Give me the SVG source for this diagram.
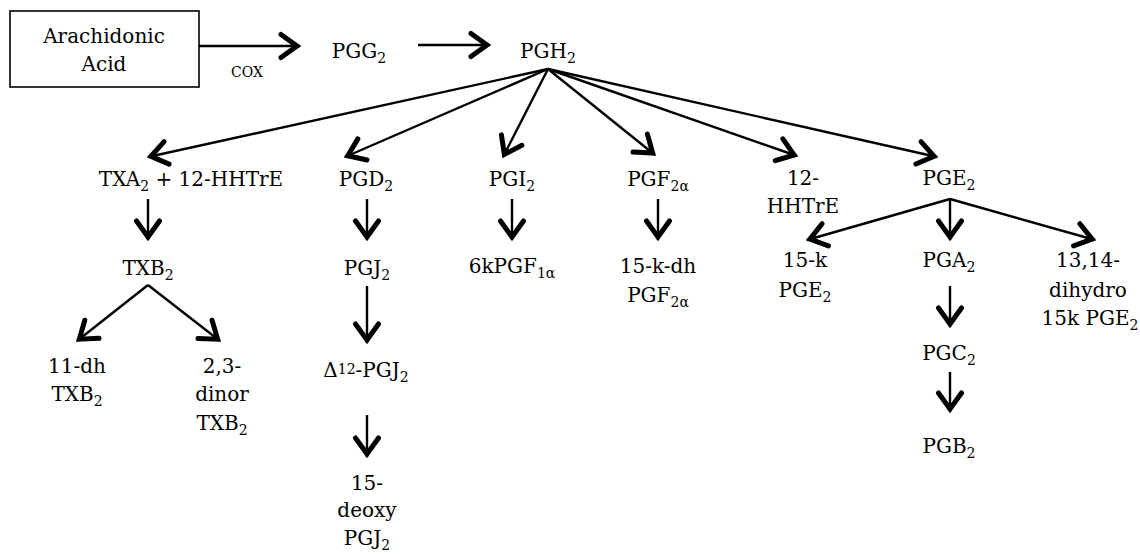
<svg xmlns="http://www.w3.org/2000/svg" width="1140" height="556" viewBox="0 0 1140 556">
  <style>
    text { font-family: "DejaVu Serif", "Liberation Serif", serif; font-size: 20px; fill: #000; text-anchor: middle; }
    .sub { font-size: 14px; }
    .sup { font-size: 14px; }
    .small { font-size: 14px; }
    .box { fill: #fff; stroke: #000; stroke-width: 1.6; }
    .link { fill: none; stroke: #000; stroke-width: 2.4; marker-end: url(#chev); }
  </style>
  <defs>
    <!-- open chevron arrowhead with heavy arms -->
    <marker id="chev" markerUnits="userSpaceOnUse" viewBox="-28 -18 32 36" markerWidth="32" markerHeight="36" refX="0" refY="0" orient="auto" overflow="visible">
      <path d="M-19,-11.5 L-3,0 L-19,11.5" fill="none" stroke="#000" stroke-width="5" stroke-linecap="round" stroke-linejoin="miter"/>
    </marker>
  </defs>
  <rect width="1140" height="556" fill="#fff"/>

  <!-- connectors -->
  <g id="connectors">
    <line class="link" x1="199" y1="46" x2="300" y2="46"/>
    <line class="link" x1="418" y1="45" x2="490" y2="45"/>
    <line class="link" x1="548" y1="69" x2="148" y2="157"/>
    <line class="link" x1="548" y1="69" x2="345" y2="157"/>
    <line class="link" x1="548" y1="69" x2="503" y2="157"/>
    <line class="link" x1="548" y1="69" x2="655" y2="155"/>
    <line class="link" x1="548" y1="69" x2="797" y2="156"/>
    <line class="link" x1="548" y1="69" x2="937" y2="157"/>
    <line class="link" x1="148" y1="199" x2="148" y2="240"/>
    <line class="link" x1="148" y1="285" x2="77" y2="341"/>
    <line class="link" x1="148" y1="285" x2="220" y2="341"/>
    <line class="link" x1="367" y1="199" x2="367" y2="240"/>
    <line class="link" x1="367" y1="286" x2="367" y2="343"/>
    <line class="link" x1="367" y1="415" x2="367" y2="457"/>
    <line class="link" x1="512" y1="199" x2="512" y2="240"/>
    <line class="link" x1="658" y1="199" x2="658" y2="240"/>
    <line class="link" x1="950" y1="199" x2="807" y2="240"/>
    <line class="link" x1="950" y1="199" x2="950" y2="240"/>
    <line class="link" x1="950" y1="199" x2="1095" y2="240"/>
    <line class="link" x1="950" y1="286" x2="950" y2="327"/>
    <line class="link" x1="950" y1="372" x2="950" y2="412"/>
    <text class="small" x="247" y="77">COX</text>
  </g>

  <!-- nodes -->
  <g id="arachidonic-acid">
    <rect class="box" x="10" y="11" width="189" height="76"/>
    <text x="104" y="43">Arachidonic</text>
    <text x="104" y="71">Acid</text>
  </g>
  <g id="pgg2"><text x="359" y="58">PGG<tspan class="sub" dy="5">2</tspan></text></g>
  <g id="pgh2"><text x="548" y="58">PGH<tspan class="sub" dy="5">2</tspan></text></g>

  <g id="txa2"><text x="191" y="186">TXA<tspan class="sub" dy="5">2</tspan><tspan dy="-5"> + 12-HHTrE</tspan></text></g>
  <g id="pgd2"><text x="366" y="186">PGD<tspan class="sub" dy="5">2</tspan></text></g>
  <g id="pgi2"><text x="512" y="186">PGI<tspan class="sub" dy="5">2</tspan></text></g>
  <g id="pgf2a"><text x="658" y="186">PGF<tspan class="sub" dy="5">2α</tspan></text></g>
  <g id="hhtre">
    <text x="803" y="185">12-</text>
    <text x="803" y="213">HHTrE</text>
  </g>
  <g id="pge2"><text x="949" y="185">PGE<tspan class="sub" dy="5">2</tspan></text></g>

  <g id="txb2"><text x="148" y="275">TXB<tspan class="sub" dy="5">2</tspan></text></g>
  <g id="dh-txb2">
    <text x="77" y="373">11-dh</text>
    <text x="77" y="401">TXB<tspan class="sub" dy="5">2</tspan></text>
  </g>
  <g id="dinor-txb2">
    <text x="222" y="373">2,3-</text>
    <text x="222" y="401">dinor</text>
    <text x="222" y="430">TXB<tspan class="sub" dy="5">2</tspan></text>
  </g>

  <g id="pgj2"><text x="367" y="275">PGJ<tspan class="sub" dy="5">2</tspan></text></g>
  <g id="delta12-pgj2"><text x="366" y="377">Δ<tspan class="sup" dy="-3">12</tspan><tspan dy="3">-PGJ</tspan><tspan class="sub" dy="5">2</tspan></text></g>
  <g id="deoxy-pgj2">
    <text x="367" y="490">15-</text>
    <text x="367" y="517">deoxy</text>
    <text x="367" y="545">PGJ<tspan class="sub" dy="5">2</tspan></text>
  </g>

  <g id="k-pgf1a"><text x="512" y="273">6kPGF<tspan class="sub" dy="5">1α</tspan></text></g>
  <g id="kdh-pgf2a">
    <text x="658" y="273">15-k-dh</text>
    <text x="658" y="302">PGF<tspan class="sub" dy="5">2α</tspan></text>
  </g>

  <g id="k-pge2">
    <text x="805" y="267">15-k</text>
    <text x="805" y="297">PGE<tspan class="sub" dy="5">2</tspan></text>
  </g>
  <g id="pga2"><text x="949" y="267">PGA<tspan class="sub" dy="5">2</tspan></text></g>
  <g id="dihydro-pge2">
    <text x="1088" y="267">13,14-</text>
    <text x="1088" y="297">dihydro</text>
    <text x="1090" y="325">15k PGE<tspan class="sub" dy="5">2</tspan></text>
  </g>
  <g id="pgc2"><text x="949" y="360">PGC<tspan class="sub" dy="5">2</tspan></text></g>
  <g id="pgb2"><text x="949" y="453">PGB<tspan class="sub" dy="5">2</tspan></text></g>
</svg>
